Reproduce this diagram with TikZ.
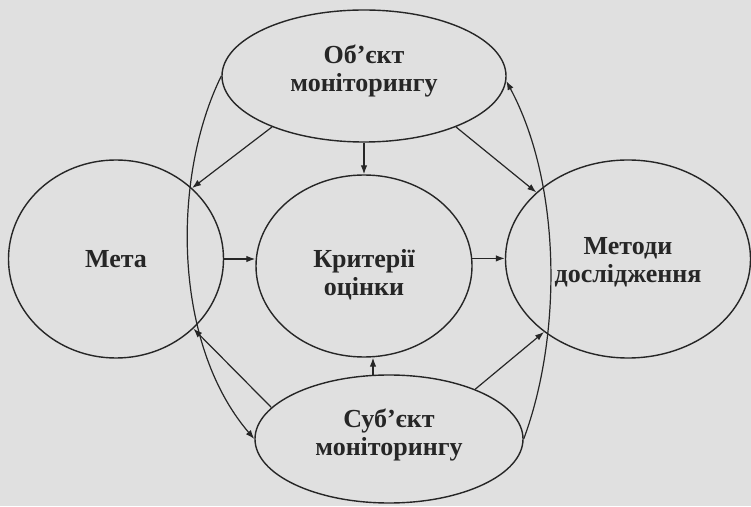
\documentclass[tikz,border=0pt]{standalone}
\usepackage{fontspec}
\setmainfont{Liberation Serif}
\usetikzlibrary{shapes.geometric,arrows.meta}
\tikzstyle{oval} = [draw=black!85,line width=1.4pt,ellipse,inner sep=0,align=center,text=black!85,font=\bfseries\fontsize{26}{28}\selectfont]
\tikzstyle{link} = [-{Latex[length=9pt,width=6.5pt]},line width=1.2pt,draw=black!85]

\begin{document}
\begin{tikzpicture}[x=1pt,y=1pt]
      \fill[black!12] (0,0) rectangle (751,506);
      \useasboundingbox (0,0) rectangle (751,506);
      \node[oval,minimum width=284pt,minimum height=132pt] (o) at (364,430) {\raisebox{4pt}[\height][\depth]{\begin{tabular}{@{}c@{}}Об’єкт\\моніторингу\end{tabular}}};
      \node[oval,minimum width=215pt,minimum height=198pt] (m) at (116,247) {Мета};
      \node[oval,minimum width=216pt,minimum height=182pt] (k) at (364,240) {\raisebox{-10pt}[\height][\depth]{\begin{tabular}{@{}c@{}}Критерії\\оцінки\end{tabular}}};
      \node[oval,minimum width=245pt,minimum height=198pt] (d) at (628,247) {\raisebox{-4pt}[\height][\depth]{\begin{tabular}{@{}c@{}}Методи\\дослідження\end{tabular}}};
      \node[oval,minimum width=268pt,minimum height=128pt] (s) at (389,67) {\raisebox{3pt}[\height][\depth]{\begin{tabular}{@{}c@{}}Суб’єкт\\моніторингу\end{tabular}}};
      \draw[link] (o.south) -- (k.north);
      \draw[link] (s.104) -- (s.104 |- k.south);
      \draw[link] (m.east) -- (m.east -| k.west);
      \draw[link] (k.4) -- (k.4 -| d.west);
      \draw[link] (o.209) -- (m.43);
      \draw[link] (o.331) -- (d.144);
      \draw[link] (s.165) -- (m.-42);
      \draw[link] (s.30) -- (d.-139);
      \draw[link] (o.west) .. controls (172,330) and (172,163) .. (s.west);
      \draw[link] (s.east) .. controls (562,170) and (562,321) .. (o.-2);
    \end{tikzpicture}
\end{document}
